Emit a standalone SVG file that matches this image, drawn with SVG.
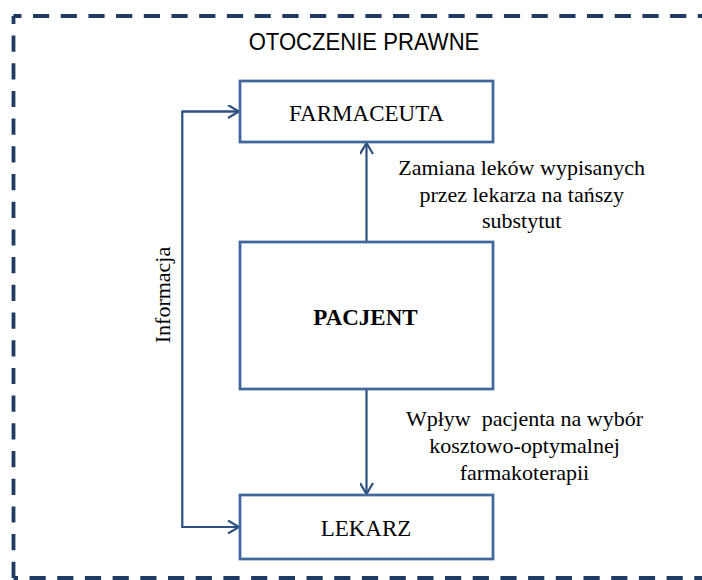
<svg xmlns="http://www.w3.org/2000/svg" width="702" height="580" viewBox="0 0 702 580">
  <defs>
    <style>
      .frame { fill: none; stroke: #1f3b63; stroke-width: 3.8; stroke-dasharray: 16.2 11.5; }
      .box { fill: #ffffff; stroke: #41689c; stroke-width: 2.75; }
      .link { fill: none; stroke: #2e5080; stroke-width: 2.2; }
      .node-text { font-family: "Liberation Serif", "Times New Roman", serif; font-size: 23px; fill: #000; text-anchor: middle; }
      .label { font-family: "Liberation Serif", "Times New Roman", serif; font-size: 22px; fill: #000; text-anchor: middle; }
      .title { font-family: "Liberation Sans", Arial, sans-serif; font-size: 23.5px; fill: #000; text-anchor: middle; }
    </style>
    <marker id="arrow" viewBox="0 0 14 14" refX="12" refY="7" markerWidth="14" markerHeight="14" markerUnits="userSpaceOnUse" orient="auto">
      <path d="M1,0.5 L12,7 L1,13.5" fill="none" stroke="#2e5080" stroke-width="2.2"/>
    </marker>
  </defs>

  <rect width="702" height="580" fill="#ffffff"/>

  <!-- dashed frame of the legal environment -->
  <g id="frame">
    <path class="frame" d="M13.5,16 H704" stroke-dashoffset="8.2"/>
    <path class="frame" d="M13.5,16 V578" stroke-dashoffset="8.2"/>
    <path class="frame" d="M13.5,578 H704" stroke-dashoffset="11.7"/>
    <text class="title" transform="translate(364,50) scale(0.94,1)">OTOCZENIE PRAWNE</text>
  </g>

  <!-- connectors -->
  <g id="connectors">
    <path class="link" d="M366.5,242 V143" marker-end="url(#arrow)"/>
    <path class="link" d="M366.5,389 V494" marker-end="url(#arrow)"/>
    <path class="link" d="M239,111.5 H182.3 V527 H239" marker-end="url(#arrow)"/>
    <path class="link" d="M182.3,111.5 H239" marker-end="url(#arrow)"/>
    <text class="label" x="521.7" y="175">Zamiana leków wypisanych</text>
    <text class="label" x="521.7" y="201.5">przez lekarza na tańszy</text>
    <text class="label" x="521.7" y="228">substytut</text>
    <text class="label" x="524.5" y="426" xml:space="preserve">Wpływ  pacjenta na wybór</text>
    <text class="label" x="524.5" y="453">kosztowo-optymalnej</text>
    <text class="label" x="524.5" y="480">farmakoterapii</text>
    <text class="label" transform="translate(170,295) rotate(-90)">Informacja</text>
  </g>

  <g id="farmaceuta">
    <rect class="box" x="240" y="81" width="253" height="61"/>
    <text class="node-text" x="366.5" y="121">FARMACEUTA</text>
  </g>

  <g id="pacjent">
    <rect class="box" x="240" y="242" width="253" height="147"/>
    <text class="node-text" x="365.5" y="325" font-weight="bold">PACJENT</text>
  </g>

  <g id="lekarz">
    <rect class="box" x="240" y="495" width="253" height="64"/>
    <text class="node-text" x="366" y="536">LEKARZ</text>
  </g>
</svg>
